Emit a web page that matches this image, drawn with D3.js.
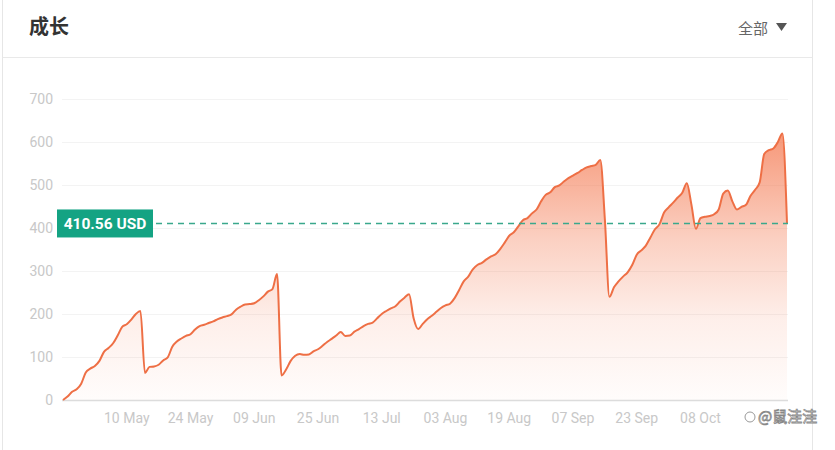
<!DOCTYPE html>
<html><head><meta charset="utf-8">
<script src="https://cdn.jsdelivr.net/npm/d3@7/dist/d3.min.js"></script>
<style>
body{margin:0;background:#fff;}
svg{display:block;}
</style></head><body>
<svg id="c" width="835" height="450"></svg>
<script>
// ---- data ----
const values = [
  0, 8, 19, 25, 38, 64, 73, 79, 91, 112,
  121, 132, 150, 170, 176, 187, 200, 207, 63, 77,
  78, 82, 92, 99, 124, 136, 143, 149, 153, 164,
  172, 175, 179, 183, 188, 192, 195, 199, 210, 217,
  222, 223, 225, 232, 241, 252, 258, 293, 57, 71,
  91, 103, 107, 105, 106, 113, 118, 126, 135, 142,
  150, 158, 149, 150, 159, 165, 172, 177, 180, 190,
  200, 207, 213, 218, 229, 238, 246, 190, 165, 177,
  188, 196, 205, 214, 220, 224, 237, 256, 276, 287,
  304, 314, 319, 327, 334, 339, 351, 366, 382, 390,
  404, 418, 423, 434, 443, 462, 477, 483, 495, 499,
  508, 516, 522, 528, 535, 541, 544, 547, 558, 420,
  240, 262, 276, 287, 297, 314, 338, 348, 359, 378,
  397, 409, 436, 448, 459, 471, 482, 504, 455, 398,
  423, 426, 428, 432, 443, 480, 487, 462, 443, 449,
  454, 475, 489, 506, 572, 581, 585, 600, 620, 410.56
];
const tickIndex = [14, 28, 42, 56, 70, 84, 98, 112, 126, 140];
const tickLabels = ["10 May", "24 May", "09 Jun", "25 Jun", "13 Jul", "03 Aug", "19 Aug", "07 Sep", "23 Sep", "08 Oct"];
const yTicks = [0, 100, 200, 300, 400, 500, 600, 700];
const currentValue = 410.56;
const currentLabel = "410.56 USD";
const titleText = "成长";
const filterText = "全部";
const watermarkText = "@鼠洼洼";

// ---- drawing ----
const svg = d3.select("#c");
const W = 835, H = 450;
const numFont = "Roboto, 'DejaVu Sans', sans-serif";
const cjkFont = "'Noto Sans CJK SC', 'Noto Sans', sans-serif";

// card frame
svg.append("rect").attr("x", 0).attr("y", 0).attr("width", W).attr("height", H).attr("fill", "#fff");
svg.append("line").attr("x1", 2.5).attr("x2", 2.5).attr("y1", 0).attr("y2", H).attr("stroke", "#e6e6e6");
svg.append("line").attr("x1", 812.5).attr("x2", 812.5).attr("y1", 0).attr("y2", H).attr("stroke", "#e6e6e6");
svg.append("line").attr("x1", 2.5).attr("x2", 812.5).attr("y1", 57.5).attr("y2", 57.5).attr("stroke", "#e9e9e9");

// header
svg.append("text").attr("x", 29).attr("y", 34).text(titleText)
  .attr("font-family", cjkFont).attr("font-size", 20).attr("font-weight", "bold").attr("fill", "#333");
svg.append("text").attr("x", 738).attr("y", 34).text(filterText)
  .attr("font-family", cjkFont).attr("font-size", 15).attr("fill", "#666");
svg.append("path").attr("d", "M776,23 L787,23 L781.5,31 Z").attr("fill", "#555");

// scales
const x = d3.scaleLinear().domain([0, values.length - 1]).range([63, 787]);
const y = d3.scaleLinear().domain([0, 700]).range([400, 99]);

// grid
svg.append("g").selectAll("line").data(yTicks.filter(d => d > 0)).join("line")
  .attr("x1", 62).attr("x2", 788)
  .attr("y1", d => Math.round(y(d)) + 0.5).attr("y2", d => Math.round(y(d)) + 0.5)
  .attr("stroke", "#f3f3f3");

// y labels
svg.append("g").selectAll("text").data(yTicks).join("text")
  .attr("x", 53).attr("y", d => y(d)).attr("dy", "0.35em")
  .attr("text-anchor", "end").attr("font-family", numFont).attr("font-size", 14)
  .attr("fill", "#c8c8c8").text(d => d);

// gradient
const defs = svg.append("defs");
const grad = defs.append("linearGradient").attr("id", "g1")
  .attr("gradientUnits", "userSpaceOnUse")
  .attr("x1", 0).attr("x2", 0).attr("y1", y(d3.max(values))).attr("y2", y(0));
grad.append("stop").attr("offset", 0).attr("stop-color", "#f47a52").attr("stop-opacity", 0.78);
grad.append("stop").attr("offset", 0.4).attr("stop-color", "#f47a52").attr("stop-opacity", 0.35);
grad.append("stop").attr("offset", 0.7).attr("stop-color", "#f47a52").attr("stop-opacity", 0.12);
grad.append("stop").attr("offset", 1).attr("stop-color", "#f47a52").attr("stop-opacity", 0.02);

const curve = d3.curveMonotoneX;
const area = d3.area().x((d, i) => x(i)).y0(y(0)).y1(d => y(d)).curve(curve);
const line = d3.line().x((d, i) => x(i)).y(d => y(d)).curve(curve);

svg.append("path").datum(values).attr("d", area).attr("fill", "url(#g1)");

// axis line
svg.append("line").attr("x1", 62).attr("x2", 788).attr("y1", 400.5).attr("y2", 400.5)
  .attr("stroke", "#dcdcdc").attr("stroke-width", 1.5);

// x labels
svg.append("g").selectAll("text").data(tickIndex).join("text")
  .attr("x", d => x(d)).attr("y", 423).attr("text-anchor", "middle")
  .attr("font-family", numFont).attr("font-size", 14).attr("fill", "#c8c8c8")
  .text((d, i) => tickLabels[i]);

// line
svg.append("path").datum(values).attr("d", line).attr("fill", "none")
  .attr("stroke", "#ee6f45").attr("stroke-width", 2).attr("stroke-linejoin", "round");

// current value dashed line
const yc = y(currentValue);
svg.append("line").attr("x1", 156).attr("x2", 788).attr("y1", yc).attr("y2", yc)
  .attr("stroke", "#3aa88c").attr("stroke-width", 1.5).attr("stroke-dasharray", "6,5");
svg.append("rect").attr("x", 57).attr("y", yc - 14).attr("width", 96).attr("height", 28)
  .attr("fill", "#14a383");
svg.append("text").attr("x", 105).attr("y", yc).attr("dy", "0.36em").attr("text-anchor", "middle")
  .attr("font-family", numFont).attr("font-size", 15.5).attr("font-weight", "bold").attr("fill", "#fff")
  .text(currentLabel);

// watermark
svg.append("circle").attr("cx", 750).attr("cy", 417).attr("r", 5).attr("fill", "none").attr("stroke", "#999").attr("stroke-width", 1);
svg.append("text").attr("x", 758).attr("y", 422).text(watermarkText)
  .attr("font-family", cjkFont).attr("font-size", 15).attr("fill", "#fff")
  .attr("stroke", "#888").attr("stroke-width", 0.8);
</script>
</body></html>
